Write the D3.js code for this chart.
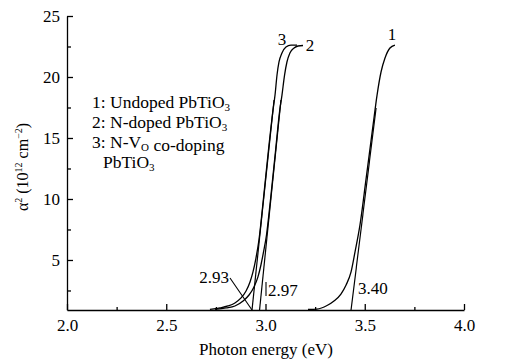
<!DOCTYPE html>
<html><head><meta charset="utf-8">
<script src="https://cdn.jsdelivr.net/npm/d3@7"></script>
<style>
body{margin:0;background:#fff;}
svg text{font-family:'Liberation Serif','Times New Roman',Times,serif !important;fill:#000;}
</style></head>
<body><svg id="c" width="505" height="364"></svg>
<script>
// ---- data ----
const xMajorTicks = [2.0, 2.5, 3.0, 3.5, 4.0];
const xMinorTicks = [2.25, 2.75, 3.25, 3.75];
const yMajorTicks = [5, 10, 15, 20, 25];
const yMinorTicks = [2.5, 7.5, 12.5, 17.5, 22.5];

// curve 1: undoped PbTiO3
const c1x = [3.214,3.259,3.310,3.345,3.380,3.406,3.431,3.451,3.476,3.506,3.542,3.562,3.582,3.602,3.627,3.652];
const c1y = [0.95,0.98,1.27,1.64,2.21,2.95,4.02,5.66,7.87,11.56,16.07,18.52,20.41,21.56,22.38,22.62];
// curve 2: N-doped PbTiO3
const c2x = [2.746,2.801,2.846,2.887,2.917,2.942,2.962,2.977,2.992,3.005,3.025,3.051,3.072,3.083,3.096,3.108,3.123,3.144,3.164,3.189];
const c2y = [0.95,1.07,1.23,1.64,2.13,2.79,3.61,4.59,5.82,7.05,9.92,14.02,17.30,18.52,20.16,21.23,21.97,22.38,22.54,22.58];
// curve 3: N-VO co-doping PbTiO3
const c3x = [2.720,2.771,2.811,2.846,2.877,2.902,2.922,2.937,2.952,2.967,2.989,3.015,3.038,3.048,3.058,3.068,3.083,3.103,3.128,3.159];
const c3y = [0.95,1.07,1.23,1.48,1.89,2.46,3.20,4.02,5.16,6.64,9.92,14.02,17.30,18.52,20.16,21.23,21.97,22.46,22.62,22.62];

// tangent lines [x0,y0,x1,y1]
const tangent1 = [3.431, 0.9, 3.557, 17.46];
const tangent2 = [2.970, 0.9, 3.078, 18.11];
const tangent3 = [2.932, 0.9, 3.043, 18.11];
const gapLabels = ["2.93", "2.97", "3.40"];
const curveLabels = ["1", "2", "3"];

// ---- chart ----
const svg = d3.select("#c");
const x = d3.scaleLinear().domain([2, 4]).range([67, 464]);
const y = d3.scaleLinear().domain([0.9, 25]).range([310, 16]);
const fs = 17;

// axes
svg.append("g").attr("transform", "translate(0,310)")
  .call(d3.axisBottom(x).tickValues(xMajorTicks).tickFormat(d3.format(".1f"))
    .tickSize(-6).tickSizeOuter(0).tickPadding(9));
svg.append("g").attr("transform", "translate(0,310)")
  .call(d3.axisBottom(x).tickValues(xMinorTicks).tickFormat("").tickSize(-3).tickSizeOuter(0))
  .select(".domain").remove();
svg.append("g").attr("transform", "translate(67,0)")
  .call(d3.axisLeft(y).tickValues(yMajorTicks).tickFormat(d3.format("d"))
    .tickSize(-6).tickSizeOuter(0).tickPadding(7));
svg.append("g").attr("transform", "translate(67,0)")
  .call(d3.axisLeft(y).tickValues(yMinorTicks).tickFormat("").tickSize(-4).tickSizeOuter(0))
  .select(".domain").remove();
svg.selectAll("g").attr("font-family", null);
svg.selectAll(".domain, .tick line").attr("stroke", "#000").attr("stroke-width", 1.3);
svg.selectAll(".tick text").attr("font-size", fs).attr("fill", "#000");

// axis titles
svg.append("text").attr("x", 266).attr("y", 355).attr("text-anchor", "middle")
  .attr("font-size", fs).text("Photon energy (eV)");
const yt = svg.append("text").attr("transform", "translate(28,167) rotate(-90)")
  .attr("text-anchor", "middle").attr("font-size", 16);
yt.append("tspan").text("α");
yt.append("tspan").attr("font-size", 10).attr("dy", -6).text("2");
yt.append("tspan").attr("dy", 6).text(" (10");
yt.append("tspan").attr("font-size", 10).attr("dy", -6).text("12");
yt.append("tspan").attr("dy", 6).text(" cm");
yt.append("tspan").attr("font-size", 10).attr("dy", -6).text("−2");
yt.append("tspan").attr("dy", 6).text(")");

// curves
const line = d3.line().x(d => x(d[0])).y(d => y(d[1])).curve(d3.curveMonotoneX);
[[c1x, c1y], [c2x, c2y], [c3x, c3y]].forEach(([xs, ys]) => {
  svg.append("path").datum(d3.zip(xs, ys)).attr("d", line)
    .attr("fill", "none").attr("stroke", "#000").attr("stroke-width", 1.3);
});
// tangents
[tangent1, tangent2, tangent3].forEach(t => {
  svg.append("line").attr("x1", x(t[0])).attr("y1", y(t[1])).attr("x2", x(t[2])).attr("y2", y(t[3]))
    .attr("stroke", "#000").attr("stroke-width", 1.2);
});

// gap labels + leaders
svg.append("text").attr("x", 229).attr("y", 283).attr("text-anchor", "end").attr("font-size", fs).text(gapLabels[0]);
svg.append("line").attr("x1", 230).attr("y1", 278).attr("x2", x(tangent3[0])).attr("y2", y(tangent3[1]))
  .attr("stroke", "#000").attr("stroke-width", 1.1);
svg.append("text").attr("x", 268).attr("y", 296).attr("font-size", fs).text(gapLabels[1]);
svg.append("line").attr("x1", 266).attr("y1", 282).attr("x2", 266).attr("y2", 296)
  .attr("stroke", "#000").attr("stroke-width", 1.1);
svg.append("text").attr("x", 358).attr("y", 294).attr("font-size", fs).text(gapLabels[2]);

// curve labels
svg.append("text").attr("x", 392).attr("y", 40).attr("text-anchor", "middle").attr("font-size", fs).text(curveLabels[0]);
svg.append("text").attr("x", 310).attr("y", 51).attr("text-anchor", "middle").attr("font-size", fs).text(curveLabels[1]);
svg.append("text").attr("x", 282).attr("y", 45).attr("text-anchor", "middle").attr("font-size", fs).text(curveLabels[2]);

// legend
const lfs = 17.5;
function legendLine(xp, yp, parts) {
  const t = svg.append("text").attr("x", xp).attr("y", yp).attr("font-size", lfs);
  parts.forEach(p => {
    if (p.sub) {
      t.append("tspan").attr("font-size", 11).attr("dy", 3).text(p.t);
      t.append("tspan").attr("dy", -3).text("");
    } else t.append("tspan").text(p.t);
  });
}
legendLine(92, 108, [{t: "1: Undoped PbTiO"}, {t: "3", sub: true}]);
legendLine(92, 128, [{t: "2: N-doped PbTiO"}, {t: "3", sub: true}]);
legendLine(92, 148, [{t: "3: N-V"}, {t: "O", sub: true}, {t: " co-doping"}]);
legendLine(103, 168, [{t: "PbTiO"}, {t: "3", sub: true}]);
</script></body></html>
